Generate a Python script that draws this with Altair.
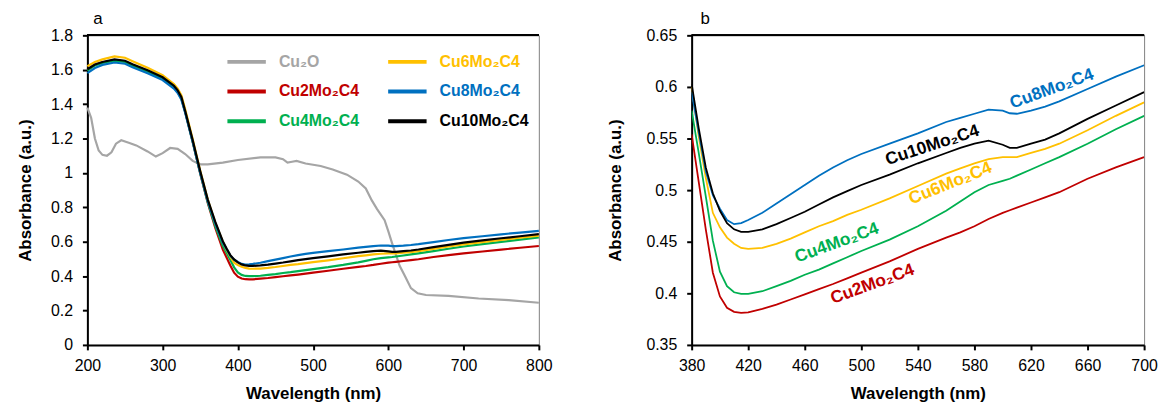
import altair as alt
import pandas as pd

# ---------------- data ----------------
WL = [200, 210, 220, 236, 250, 260, 280, 300, 315, 320, 325, 330, 340, 350, 360, 370,
      380, 385, 390, 395, 400, 405, 410, 415, 420, 430, 440, 450, 460, 470, 480, 490, 500,
      520, 540, 560, 570, 580, 590, 600, 605, 610, 620, 630, 640, 660, 680, 700,
      725, 750, 775, 800]

CU2 = [1.60, 1.628, 1.643, 1.655, 1.648, 1.628, 1.592, 1.55, 1.50, 1.473, 1.433, 1.355, 1.18, 0.995, 0.825, 0.68,
       0.554, 0.508, 0.462, 0.420, 0.397, 0.386, 0.382, 0.381, 0.3815, 0.385, 0.389, 0.394, 0.399, 0.404, 0.409, 0.4145, 0.420,
       0.431, 0.443, 0.454, 0.459, 0.465, 0.472, 0.478, 0.4805, 0.483, 0.488, 0.493, 0.498, 0.511, 0.522, 0.532,
       0.543, 0.554, 0.565, 0.575]
CU4 = [1.595, 1.625, 1.64, 1.652, 1.645, 1.625, 1.59, 1.548, 1.497, 1.47, 1.43, 1.355, 1.18, 0.998, 0.83, 0.69,
       0.577, 0.536, 0.494, 0.451, 0.421, 0.407, 0.401, 0.3995, 0.3995, 0.402, 0.407, 0.412, 0.418, 0.423, 0.429, 0.435, 0.441,
       0.452, 0.465, 0.480, 0.489, 0.498, 0.505, 0.509, 0.511, 0.514, 0.520, 0.526, 0.532, 0.545, 0.559, 0.572,
       0.586, 0.599, 0.612, 0.625]
CU6 = [1.62, 1.645, 1.66, 1.678, 1.67, 1.65, 1.612, 1.568, 1.517, 1.49, 1.45, 1.37, 1.195, 1.012, 0.845, 0.71,
       0.600, 0.552, 0.512, 0.478, 0.464, 0.454, 0.448, 0.444, 0.443, 0.444, 0.448, 0.453, 0.459, 0.465, 0.470, 0.476, 0.481,
       0.492, 0.504, 0.516, 0.521, 0.526, 0.530, 0.532, 0.532, 0.532, 0.536, 0.540, 0.545, 0.558, 0.572, 0.585,
       0.598, 0.611, 0.623, 0.635]
CU8 = [1.58, 1.61, 1.628, 1.642, 1.635, 1.615, 1.58, 1.54, 1.49, 1.465, 1.425, 1.35, 1.18, 1.0, 0.835, 0.705,
       0.595, 0.556, 0.518, 0.495, 0.482, 0.471, 0.467, 0.468, 0.471, 0.478, 0.487, 0.496, 0.505, 0.514, 0.522, 0.529, 0.535,
       0.545, 0.555, 0.566, 0.570, 0.574, 0.578, 0.577, 0.5745, 0.574, 0.577, 0.581, 0.586, 0.598, 0.610, 0.621,
       0.632, 0.643, 0.653, 0.663]
CU10 = [1.603, 1.63, 1.645, 1.66, 1.652, 1.632, 1.597, 1.556, 1.507, 1.48, 1.44, 1.36, 1.19, 1.01, 0.845, 0.715,
        0.603, 0.560, 0.522, 0.497, 0.480, 0.468, 0.462, 0.4595, 0.4595, 0.462, 0.467, 0.473, 0.479, 0.486, 0.493, 0.499, 0.505,
        0.515, 0.526, 0.536, 0.541, 0.545, 0.548, 0.544, 0.541, 0.541, 0.545, 0.549, 0.555, 0.569, 0.582, 0.595,
        0.608, 0.620, 0.632, 0.644]

CU2O_WL = [200, 205, 210, 215, 220, 226, 232, 238, 245, 255, 265, 280, 291, 300, 310, 320, 330, 340, 350, 360,
           380, 400, 430, 450, 460, 466, 472, 478, 490, 510, 526, 545, 560, 570, 578, 585, 595, 600, 605, 615,
           622, 630, 639, 650, 680, 720, 760, 800]
CU2O = [1.38, 1.32, 1.20, 1.13, 1.105, 1.10, 1.12, 1.17, 1.19, 1.175, 1.16, 1.125, 1.095, 1.115, 1.145, 1.14, 1.11, 1.07, 1.05, 1.05,
        1.06, 1.075, 1.09, 1.09, 1.08, 1.06, 1.065, 1.07, 1.055, 1.04, 1.02, 0.99, 0.95, 0.91, 0.84, 0.79, 0.725, 0.66, 0.59, 0.46,
        0.40, 0.33, 0.30, 0.29, 0.285, 0.27, 0.26, 0.245]

NAMES = ["Cu\u2082O", "Cu2Mo\u2082C4", "Cu4Mo\u2082C4", "Cu6Mo\u2082C4", "Cu8Mo\u2082C4", "Cu10Mo\u2082C4"]
COLORS = ["#A5A5A5", "#C00000", "#00B050", "#FFC000", "#0070C0", "#000000"]

# panel b labels
LAB_TEXT = ["Cu8Mo\u2082C4", "Cu10Mo\u2082C4", "Cu6Mo\u2082C4", "Cu4Mo\u2082C4", "Cu2Mo\u2082C4"]
LAB_WL = [634.7, 550.2, 563.0, 482.7, 507.9]
LAB_A = [0.598, 0.5433, 0.5064, 0.4487, 0.4087]
LAB_ANG = [340, 342, 338, 340, 340]
LAB_COL = ["#0070C0", "#000000", "#FFC000", "#00B050", "#C00000"]

# ---------------- tables ----------------
rows = []
for w, v in zip(CU2O_WL, CU2O):
    rows.append({"wl": w, "a": v, "s": NAMES[0]})
for name, vals in zip(NAMES[1:], [CU2, CU4, CU6, CU8, CU10]):
    for w, v in zip(WL, vals):
        rows.append({"wl": w, "a": v, "s": name})
df = pd.DataFrame(rows)
df_b = df[(df.s != NAMES[0]) & (df.wl >= 380) & (df.wl <= 700)]
df_lab = pd.DataFrame({"wl": LAB_WL, "a": LAB_A, "t": LAB_TEXT, "ang": LAB_ANG, "c": LAB_COL})

FONT = "Liberation Sans"

fill_expr = " : ".join([f"datum.value === '{n}' ? '{c}'" for n, c in zip(NAMES, COLORS)]) + " : 'black'"

color_a = alt.Color(
    "s:N",
    scale=alt.Scale(domain=NAMES, range=COLORS),
    legend=alt.Legend(
        orient="none", legendX=139, legendY=5, columns=2, title=None,
        symbolType="stroke", symbolSize=1500, symbolStrokeWidth=4,
        labelFont=FONT, labelFontSize=16, labelFontWeight="bold",
        labelOffset=11, rowPadding=-13.5, columnPadding=21,
        labelColor=alt.ExprRef(fill_expr),
    ),
)

W_A, H = 455, 312
W_B = 456

lines_a = alt.Chart(df).mark_line(strokeWidth=2.2).encode(
    x=alt.X("wl:Q", scale=alt.Scale(domain=[200, 800], nice=False),
            axis=alt.Axis(values=list(range(200, 801, 100)), title="Wavelength (nm)")),
    y=alt.Y("a:Q", scale=alt.Scale(domain=[0, 1.8], nice=False),
            axis=alt.Axis(values=[0, 0.2, 0.4, 0.6, 0.8, 1.0, 1.2, 1.4, 1.6, 1.8], format="~g",
                          title="Absorbance (a.u.)", titlePadding=16)),
    color=color_a,
    detail="s:N",
)
top_a = alt.Chart(df).mark_rule(color="black", strokeWidth=1.5).encode(
    x=alt.value(0), x2=alt.value(W_A), y=alt.value(0))

panel_a = alt.layer(lines_a, top_a).properties(
    width=W_A, height=H,
    title=alt.TitleParams("a", anchor="start", frame="group", fontSize=17, fontWeight="normal",
                          font=FONT, dx=6, offset=-1),
)

lines_b = alt.Chart(df_b).mark_line(strokeWidth=1.8, clip=True).encode(
    x=alt.X("wl:Q", scale=alt.Scale(domain=[380, 700], nice=False),
            axis=alt.Axis(values=list(range(380, 701, 40)), title="Wavelength (nm)")),
    y=alt.Y("a:Q", scale=alt.Scale(domain=[0.35, 0.65], nice=False),
            axis=alt.Axis(values=[0.35, 0.4, 0.45, 0.5, 0.55, 0.6, 0.65], format="~g",
                          title="Absorbance (a.u.)", titlePadding=22)),
    color=alt.Color("s:N", scale=alt.Scale(domain=NAMES, range=COLORS), legend=None),
    detail="s:N",
)
labels_b = alt.Chart(df_lab).mark_text(font=FONT, fontSize=17.5, fontWeight="bold",
                                       align="center", baseline="middle").encode(
    x="wl:Q", y="a:Q", text="t:N",
    angle=alt.Angle("ang:Q", scale=None),
    color=alt.Color("c:N", scale=None),
)
top_b = alt.Chart(df_lab).mark_rule(color="black", strokeWidth=1.5).encode(
    x=alt.value(0), x2=alt.value(W_B), y=alt.value(0))

panel_b = alt.layer(lines_b, labels_b, top_b).properties(
    width=W_B, height=H,
    title=alt.TitleParams("b", anchor="start", frame="group", fontSize=17, fontWeight="normal",
                          font=FONT, dx=9, offset=-1),
)

chart = alt.hconcat(panel_a, panel_b, spacing=53).resolve_scale(color="independent").properties(
    padding={"left": 8, "top": 0, "right": 0, "bottom": 0}
).configure_view(stroke="#808080", strokeWidth=1).configure_axis(
    domainColor="black", domainWidth=2, tickColor="black", tickWidth=2, tickSize=5,
    labelFont=FONT, labelFontSize=16, labelColor="black", labelPadding=8, labelFlush=False,
    titleFont=FONT, titleFontSize=17, titleFontWeight="bold", titleColor="black",
    grid=False,
).configure_axisY(labelPadding=10).configure_axisX(titlePadding=12)

chart.save("out.html", embed_options={"renderer": "svg", "actions": False})
